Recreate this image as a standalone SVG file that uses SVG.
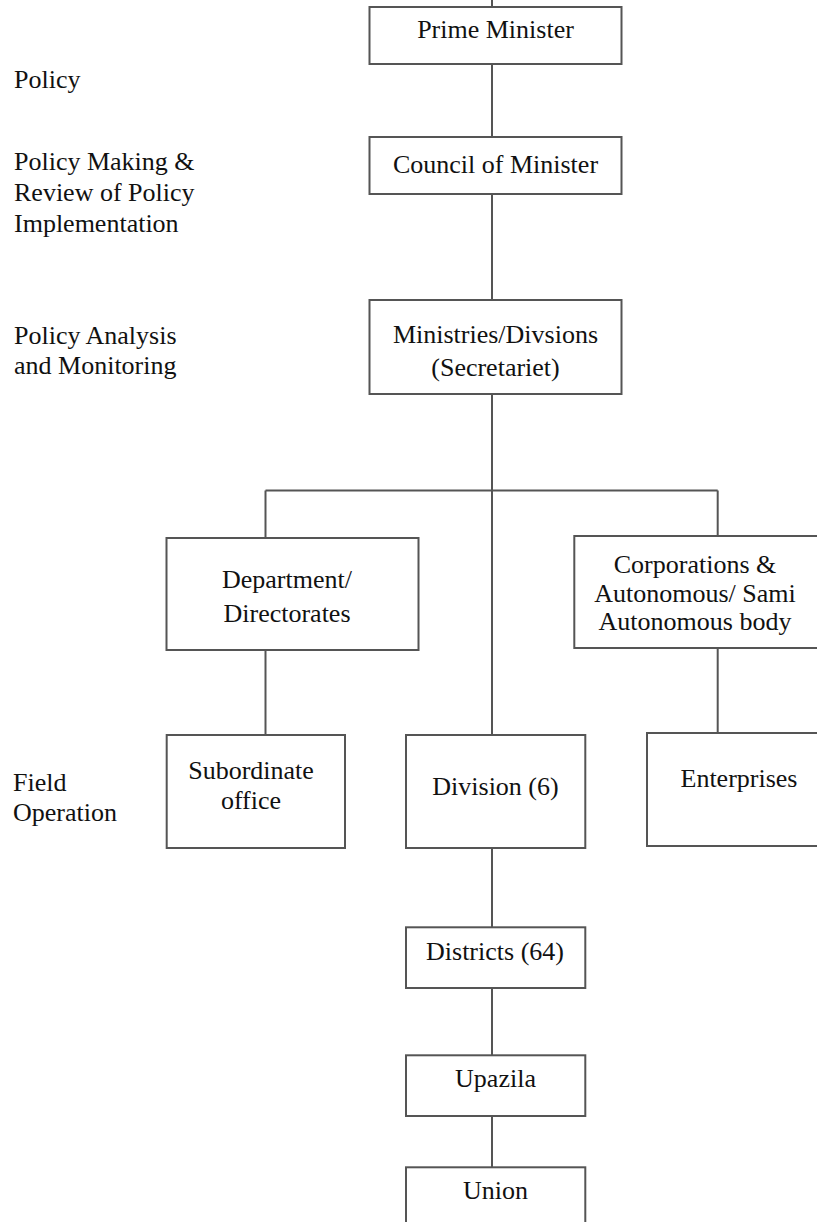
<svg xmlns="http://www.w3.org/2000/svg" width="817" height="1222" viewBox="0 0 817 1222">
<style>
.box{fill:#fff;stroke:#555;stroke-width:2}
.ln{stroke:#555;stroke-width:2;fill:none}
text{font-family:"Liberation Serif","Times New Roman",serif;font-size:26px;fill:#111}
.c{text-anchor:middle}
</style>
<rect width="817" height="1222" fill="#fff"/>
<g id="connectors">
<line class="ln" x1="492" y1="0" x2="492" y2="7"/>
<line class="ln" x1="492" y1="64" x2="492" y2="137"/>
<line class="ln" x1="492" y1="194" x2="492" y2="300"/>
<line class="ln" x1="492" y1="394" x2="492" y2="735"/>
<line class="ln" x1="265.5" y1="490.5" x2="717.7" y2="490.5"/>
<line class="ln" x1="265.5" y1="490.5" x2="265.5" y2="538"/>
<line class="ln" x1="717.7" y1="490.5" x2="717.7" y2="536"/>
<line class="ln" x1="265.5" y1="650" x2="265.5" y2="735"/>
<line class="ln" x1="717.7" y1="648" x2="717.7" y2="733"/>
<line class="ln" x1="492" y1="848" x2="492" y2="927"/>
<line class="ln" x1="492" y1="988" x2="492" y2="1055"/>
<line class="ln" x1="492" y1="1116" x2="492" y2="1167"/>
</g>
<g id="labels">
<text x="14" y="88">Policy</text>
<text x="14" y="170">Policy Making &amp;</text>
<text x="14" y="200.5">Review of Policy</text>
<text x="14" y="232">Implementation</text>
<text x="14" y="344">Policy Analysis</text>
<text x="14" y="374">and Monitoring</text>
<text x="13" y="791">Field</text>
<text x="13" y="821">Operation</text>
</g>
<g id="prime-minister">
<rect class="box" x="369.5" y="7" width="252" height="57"/>
<text class="c" x="495.5" y="38">Prime Minister</text>
</g>
<g id="council">
<rect class="box" x="369.5" y="137" width="252" height="57"/>
<text class="c" x="495.5" y="173">Council of Minister</text>
</g>
<g id="ministries">
<rect class="box" x="369.5" y="300" width="252" height="94"/>
<text class="c" x="495.5" y="343">Ministries/Divsions</text>
<text class="c" x="495.5" y="376">(Secretariet)</text>
</g>
<g id="department">
<rect class="box" x="166.5" y="538" width="252" height="112"/>
<text class="c" x="287" y="588">Department/</text>
<text class="c" x="287" y="621.5">Directorates</text>
</g>
<g id="corporations">
<rect class="box" x="574.3" y="536" width="260" height="112"/>
<text class="c" x="695" y="573">Corporations &amp;</text>
<text class="c" x="695" y="601.5">Autonomous/ Sami</text>
<text class="c" x="695" y="629.5">Autonomous body</text>
</g>
<g id="subordinate">
<rect class="box" x="166.7" y="735" width="178.3" height="113"/>
<text class="c" x="251" y="778.5">Subordinate</text>
<text class="c" x="251" y="809">office</text>
</g>
<g id="division">
<rect class="box" x="406" y="735" width="179.3" height="113"/>
<text class="c" x="495.5" y="795">Division (6)</text>
</g>
<g id="enterprises">
<rect class="box" x="647" y="733" width="190" height="113"/>
<text class="c" x="739" y="786.5">Enterprises</text>
</g>
<g id="districts">
<rect class="box" x="406" y="927.3" width="179.3" height="60.7"/>
<text class="c" x="495" y="960">Districts (64)</text>
</g>
<g id="upazila">
<rect class="box" x="406" y="1055.3" width="179.3" height="60.7"/>
<text class="c" x="495.5" y="1087">Upazila</text>
</g>
<g id="union">
<rect class="box" x="406" y="1167.3" width="179.3" height="70"/>
<text class="c" x="495.5" y="1198.5">Union</text>
</g>
</svg>
